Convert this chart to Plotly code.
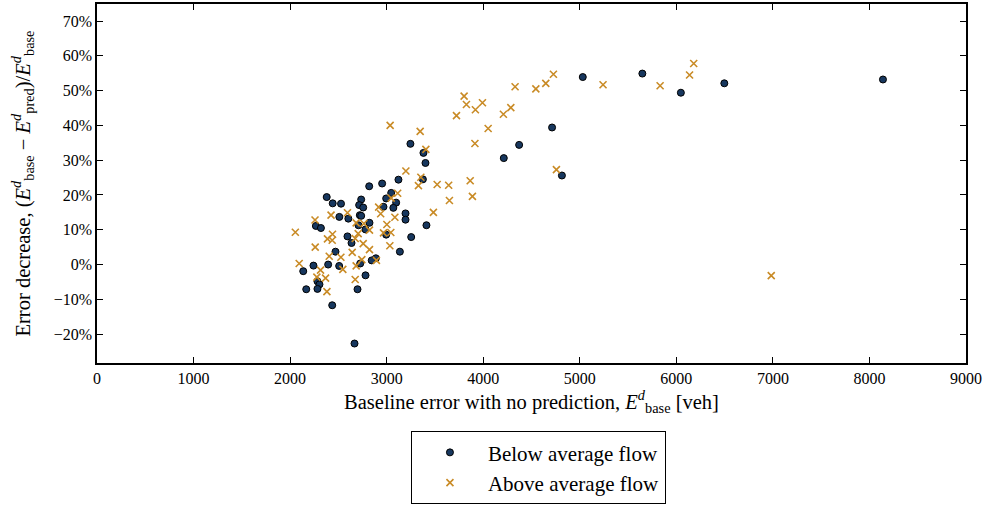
import plotly.graph_objects as go

# Below average flow (dots)
below_x = [5031, 5648, 6047, 6497, 8140, 4713, 4372, 4213, 4815, 3246, 3381, 3402, 3375, 3122,
           2953, 2819, 3047, 2995, 3098, 2967, 3069, 2736, 2715, 2757, 2379, 2441, 2527, 2510,
           2603, 2722, 2736, 3195, 3195, 2267, 2319, 2822, 2708, 2781, 3412, 2995, 3254, 2594,
           2636, 3137, 2470, 2888, 2845, 2726, 2394, 2508, 2242, 2136, 2781, 2283, 2304, 2167,
           2283, 2698, 2436, 2667]
below_y = [53.9, 54.9, 49.4, 52.1, 53.2, 39.4, 34.4, 30.6, 25.6, 34.7, 32.1, 29.2, 24.5, 24.4,
           23.3, 22.5, 20.6, 19.0, 17.8, 16.6, 16.3, 18.7, 17.1, 16.4, 19.4, 17.6, 17.5, 13.7,
           13.2, 14.2, 14.0, 14.7, 12.9, 11.1, 10.5, 12.0, 11.3, 10.1, 11.3, 8.6, 7.9, 8.1,
           6.2, 3.7, 3.7, 1.8, 1.2, 0.3, 0.0, -0.4, -0.3, -1.9, -3.1, -4.8, -5.7, -7.1,
           -7.0, -7.1, -11.7, -22.7]

# Above average flow (crosses)
above_x = [6180, 6137, 5832, 5241, 4727, 4648, 4545, 4330, 4286, 4209, 4051, 3992, 3919, 3826,
           3802, 3723, 3914, 4758, 3865, 3642, 3888, 3650, 3523, 3036, 3347, 3406, 3199, 3354,
           3329, 3484, 3114, 3047, 2917, 2938, 3085, 2594, 2424, 2258, 2054, 2684, 2764, 2822,
           3002, 2967, 3043, 2705, 2674, 2439, 2436, 2387, 2260, 2757, 2822, 3033, 2643, 2526,
           2405, 2094, 2743, 2894, 2684, 2546, 2315, 2367, 2277, 2674, 2381, 6983]
above_y = [57.8, 54.5, 51.4, 51.7, 54.7, 52.1, 50.5, 51.1, 45.1, 43.2, 39.1, 46.5, 44.5, 46.0,
           48.4, 42.8, 34.8, 27.3, 24.1, 22.8, 19.6, 18.4, 23.0, 40.0, 38.3, 33.1, 26.9, 25.1,
           22.7, 15.0, 20.5, 19.1, 16.5, 14.6, 13.6, 14.9, 14.2, 12.8, 9.3, 12.0, 11.8, 9.9,
           11.5, 9.1, 9.2, 8.9, 7.5, 8.7, 7.0, 7.4, 5.0, 6.0, 4.3, 5.4, 3.5, 2.1,
           2.4, 0.3, 1.4, 1.2, -0.4, -1.4, -1.6, -3.9, -3.6, -4.3, -7.8, -3.2]

x_ticks = [0, 1000, 2000, 3000, 4000, 5000, 6000, 7000, 8000, 9000]
y_ticks = [-20, -10, 0, 10, 20, 30, 40, 50, 60, 70]

FONT = "Liberation Serif"

fig = go.Figure()
fig.add_trace(go.Scatter(
    x=below_x, y=[v / 100 for v in below_y], mode="markers", name="Below average flow",
    marker=dict(symbol="circle", size=7, color="#17375e", line=dict(color="black", width=1)),
))
fig.add_trace(go.Scatter(
    x=above_x, y=[v / 100 for v in above_y], mode="markers", name="Above average flow",
    marker=dict(symbol="x-thin", size=7, color="#c98b26", line=dict(color="#c98b26", width=1.6)),
))

fig.update_layout(
    width=985, height=509,
    margin=dict(l=97, r=19, t=4, b=146, autoexpand=False),
    plot_bgcolor="white", paper_bgcolor="white",
    font=dict(family=FONT, size=16, color="black"),
    showlegend=True,
    legend=dict(
        x=0.508, y=-0.19, xanchor="center", yanchor="top",
        bordercolor="black", borderwidth=1, bgcolor="white",
        font=dict(family=FONT, size=21, color="black"),
        itemsizing="trace", itemwidth=66, tracegroupgap=0,
    ),
)
fig.update_xaxes(
    range=[0, 9000], tickvals=x_ticks, ticktext=[str(t) for t in x_ticks], automargin=False,
    showgrid=False, zeroline=False, showline=True, linecolor="black", linewidth=1.5,
    mirror="ticks", ticks="inside", ticklen=6, tickcolor="black", tickwidth=1,
    tickfont=dict(family=FONT, size=16),
    title=dict(text="Baseline error with no prediction, <i>E</i><sup><i>d</i></sup><sub>base</sub> [veh]",
               font=dict(family=FONT, size=20.5), standoff=4),
)
fig.update_yaxes(
    range=[-0.283, 0.749], tickvals=[t / 100 for t in y_ticks], automargin=False,
    ticktext=[("\u2212" if t < 0 else "") + f"{abs(t)}%" for t in y_ticks],
    showgrid=False, zeroline=False, showline=True, linecolor="black", linewidth=1.5,
    mirror="ticks", ticks="inside", ticklen=6, tickcolor="black", tickwidth=1,
    tickfont=dict(family=FONT, size=16),
    title=dict(text="Error decrease, (<i>E</i><sup><i>d</i></sup><sub>base</sub> \u2212 <i>E</i><sup><i>d</i></sup><sub>pred</sub>)/<i>E</i><sup><i>d</i></sup><sub>base</sub>",
               font=dict(family=FONT, size=20.5), standoff=18),
)

fig.write_html("out.html", config={"displayModeBar": False},
               post_script="document.body.style.margin='0';document.body.style.overflow='hidden';")
